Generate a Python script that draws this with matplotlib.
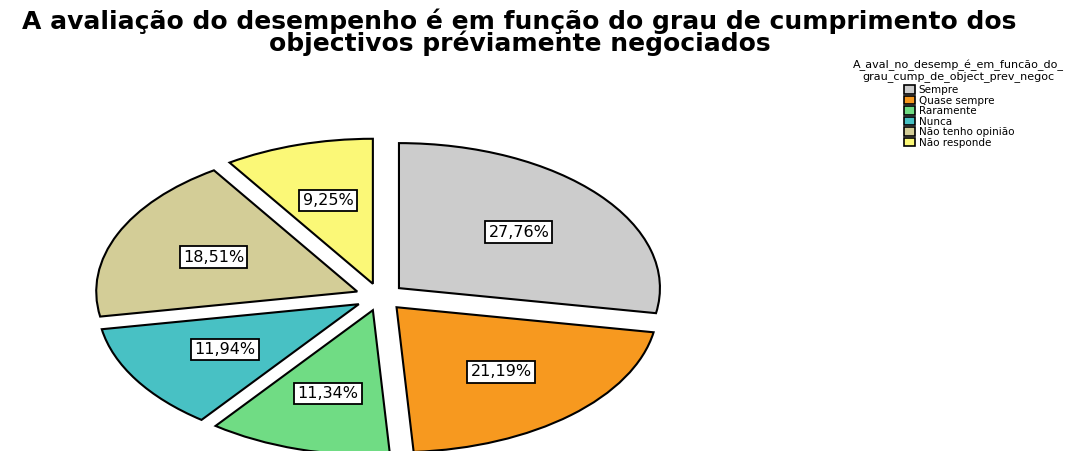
import matplotlib
matplotlib.use("Agg")
import matplotlib.pyplot as plt

plt.rcParams['font.family'] = ['DejaVu Sans']

categories = ['Sempre', 'Quase sempre', 'Raramente', 'Nunca',
              'Não tenho opinião', 'Não responde']
percent = [27.76, 21.19, 11.34, 11.94, 18.51, 9.25]
colors = ['#cccccc', '#f7991f', '#70dc84', '#48c1c4', '#d3cd97', '#fbf877']

title = ('A avaliação do desempenho é em função do grau de cumprimento dos\n'
         'objectivos préviamente negociados')
legend_title = 'A_aval_no_desemp_é_em_funcão_do_\ngrau_cump_de_object_prev_negoc'

fig = plt.figure(figsize=(10.82, 4.51), dpi=100)
ax = fig.add_axes([0, 0, 1, 1])

wedges, texts, autotexts = ax.pie(
    percent, colors=colors, startangle=90, counterclock=False,
    explode=[0.095] * len(percent),
    autopct=lambda p: f'{p:.2f}%'.replace('.', ','), pctdistance=0.6,
    wedgeprops=dict(edgecolor='black', linewidth=1.5),
    textprops=dict(fontsize=11.5, color='black'))

for t in autotexts:
    t.set_bbox(dict(boxstyle='square,pad=0.2', facecolor='white',
                    edgecolor='black', linewidth=1.3))

# stretched, cut-off pie like the SPSS output
ax.set_aspect('auto')
ax.set_xlim(-1.456, 2.690)
ax.set_ylim(-1.062, 2.048)
ax.axis('off')

fig.text(0.48, 0.982, title, ha='center', va='top', fontsize=18,
         fontweight='bold', linespacing=0.86)

# legend title drawn separately so the gap above the entries can be set
fig.text(958 / 1082, 1 - 60 / 451, legend_title, ha='center', va='top',
         fontsize=8, multialignment='center', linespacing=0.9)
leg = fig.legend(wedges, categories, loc='upper center',
                 bbox_to_anchor=(959 / 1082, 1 - 85 / 451),
                 frameon=False, fontsize=7.5, handlelength=1.05,
                 handleheight=0.9, handletextpad=0.4, labelspacing=0.05,
                 borderpad=0, borderaxespad=0)
for h in leg.legend_handles:
    h.set_linewidth(1.2)

fig.savefig('out.png', dpi=100)
